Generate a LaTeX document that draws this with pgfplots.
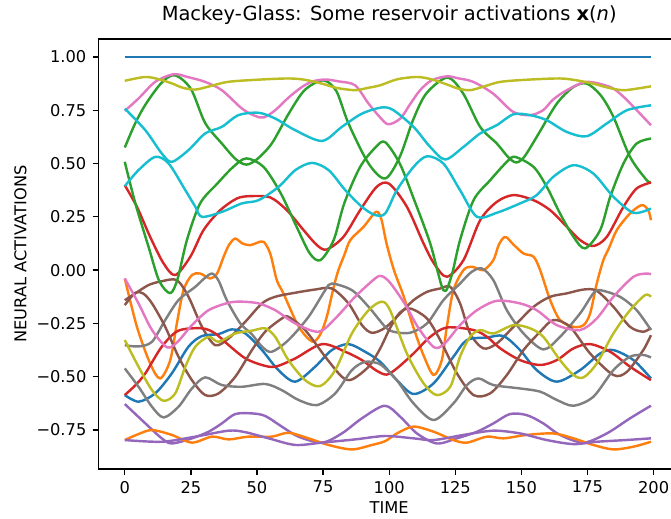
\documentclass[border=0pt]{standalone}
\usepackage{fontspec}
\setmainfont{DejaVu Sans}
\usepackage{pgfplots}
\pgfplotsset{compat=1.18}

% tab10 palette
\definecolor{c0}{HTML}{1F77B4}
\definecolor{c1}{HTML}{FF7F0E}
\definecolor{c2}{HTML}{2CA02C}
\definecolor{c3}{HTML}{D62728}
\definecolor{c4}{HTML}{9467BD}
\definecolor{c5}{HTML}{8C564B}
\definecolor{c6}{HTML}{E377C2}
\definecolor{c7}{HTML}{7F7F7F}
\definecolor{c8}{HTML}{BCBD22}
\definecolor{c9}{HTML}{17BECF}

\begin{document}
\begin{tikzpicture}
\begin{axis}[
  name=ax,
  scale only axis,
  width=418.8pt, height=309.6pt,
  xmin=-10, xmax=210, ymin=-0.933, ymax=1.084,
  axis line style={line width=0.94pt},
  every tick/.style={black, line width=0.94pt},
  major tick length=4.1pt,
  tick align=outside,
  xtick pos=left, ytick pos=left,
  xtick={0,25,50,75,100,125,150,175,200},
  xticklabels={0,25,50,75,100,125,150,175,200},
  ytick={-0.75,-0.5,-0.25,0,0.25,0.5,0.75,1},
  yticklabels={−0.75,−0.50,−0.25,0.00,0.25,0.50,0.75,1.00},
  tick label style={font=\fontsize{11.7}{14}\selectfont},
  xticklabel style={yshift=-1pt},
  yticklabel style={xshift=-1pt},
  label style={font=\fontsize{11.7}{14}\selectfont},
  xlabel={TIME},
  ylabel={NEURAL ACTIVATIONS},
  xlabel style={at={(axis description cs:0.5,-0.0885)}, anchor=center},
  ylabel style={at={(axis description cs:-0.134,0.5)}, anchor=center, rotate=0},
  title={Mackey-Glass: Some reservoir activations {\bfseries x}(\textit{n})},
  title style={font=\fontsize{14}{17}\selectfont, at={(axis description cs:0.5,1.0226)}, anchor=base},
  every axis plot/.append style={line width=1.75pt, smooth, no markers, line join=round},
]
% bias unit
\addplot[c0] coordinates {(0,1) (199,1)};
% first group of units
\addplot[c1] coordinates {(0,-0.039) (4.6,-0.266) (9.6,-0.438) (13.4,-0.508) (17.2,-0.422) (19.7,-0.25) (22.2,-0.094) (25.4,-0.023) (28.5,-0.016) (32.3,-0.039) (34.9,-0.016) (37.4,0.063) (39.5,0.12) (41.8,0.148) (44.5,0.125) (47.4,0.117) (50,0.128) (52.5,0.133) (55,0.078) (57.5,-0.047) (60,-0.109) (65.1,-0.25) (68.5,-0.31) (71.4,-0.336) (74,-0.3) (76.4,-0.219) (79,-0.08) (80.8,0) (83,0.07) (85.3,0.141) (90.3,0.203) (95,0.273) (97,0.24) (99,0.125) (101.8,0.0) (105.4,-0.12) (109.2,-0.27) (113,-0.4) (116.8,-0.492) (119.9,-0.422) (121.8,-0.266) (124.3,-0.094) (128.1,0) (131.3,0.016) (135.6,0) (139.4,0.047) (141.5,0.12) (143.9,0.156) (147,0.12) (150.8,0.078) (154.6,0.063) (157.1,0) (160.9,-0.141) (164.6,-0.234) (169.7,-0.266) (173.5,-0.258) (176,-0.203) (178.5,-0.063) (181,0.047) (183,0.1) (186.1,0.188) (191.1,0.266) (195.5,0.305) (198,0.281) (199,0.234)};
\addplot[c2] coordinates {(0,0.575) (4,0.69) (8,0.78) (14,0.88) (19,0.914) (25,0.85) (30.4,0.69) (36.7,0.594) (42,0.52) (46,0.495) (50,0.52) (55.6,0.594) (62,0.734) (68,0.844) (75,0.89) (80,0.84) (84.6,0.688) (92.2,0.5) (98.5,0.43) (104,0.531) (109,0.703) (114,0.828) (122,0.903) (128,0.828) (134.4,0.672) (140.7,0.594) (145,0.53) (148,0.505) (151,0.53) (155.8,0.625) (163.4,0.781) (169.7,0.859) (174.7,0.875) (180,0.82) (184.8,0.719) (191.1,0.531) (197.4,0.422) (199,0.414)};
\addplot[c3] coordinates {(0,0.398) (4.6,0.297) (9.6,0.156) (14.7,0.031) (19.1,-0.023) (24.8,0.063) (29.8,0.188) (36.1,0.281) (42.4,0.336) (47.4,0.347) (55,0.341) (61.3,0.281) (67.6,0.188) (72.7,0.117) (76.4,0.097) (82.7,0.156) (89,0.281) (95.3,0.391) (100,0.405) (106.7,0.297) (113,0.125) (117,0.03) (121.8,-0.031) (128.1,0.047) (134.4,0.234) (140.7,0.32) (147,0.352) (154.6,0.328) (160.9,0.281) (167.2,0.203) (172.2,0.141) (177.2,0.113) (182.3,0.156) (188.6,0.297) (193.6,0.383) (199,0.411)};
\addplot[c4] coordinates {(0,-0.628) (7.8,-0.719) (14,-0.789) (17.8,-0.813) (25.4,-0.789) (31.7,-0.758) (36.7,-0.719) (41.8,-0.675) (48.1,-0.672) (53.1,-0.684) (59.4,-0.734) (65.7,-0.781) (74.6,-0.809) (82.1,-0.766) (89.7,-0.695) (98.3,-0.636) (104.2,-0.688) (110.5,-0.766) (118,-0.813) (125.6,-0.789) (133.2,-0.758) (139.4,-0.719) (145.7,-0.675) (152,-0.68) (158.3,-0.719) (164.6,-0.773) (173.5,-0.809) (182.3,-0.766) (191.1,-0.695) (199,-0.636)};
\addplot[c5] coordinates {(0,-0.141) (4,-0.109) (9,-0.07) (14,-0.052) (19.7,-0.047) (24.1,-0.125) (29.2,-0.266) (34.2,-0.352) (39.3,-0.32) (45.6,-0.242) (51.9,-0.156) (56.9,-0.125) (64.5,-0.106) (72,-0.091) (78.3,-0.086) (84.6,-0.156) (89.7,-0.258) (93.5,-0.294) (98.5,-0.27) (104.2,-0.203) (109.2,-0.141) (114.3,-0.102) (119.3,-0.086) (123.1,-0.078) (126.8,-0.156) (130.6,-0.297) (135.6,-0.367) (140.7,-0.344) (147,-0.266) (154.6,-0.172) (160.9,-0.125) (167.2,-0.109) (173.5,-0.091) (178.5,-0.097) (184.8,-0.172) (191.1,-0.266) (196.1,-0.289) (199,-0.27)};
\addplot[c6] coordinates {(0,0.747) (5.2,0.805) (11.5,0.883) (18.5,0.919) (24,0.905) (30.4,0.883) (36.7,0.844) (44.3,0.758) (49,0.725) (52.5,0.716) (56.9,0.75) (62,0.81) (67,0.859) (71,0.885) (75.8,0.894) (81,0.885) (87.1,0.867) (92.2,0.781) (96.6,0.716) (99.7,0.684) (104.2,0.711) (108,0.78) (111.7,0.844) (116,0.89) (121.8,0.909) (126,0.9) (131.8,0.883) (139.3,0.828) (146.9,0.742) (153.3,0.727) (158.2,0.75) (162,0.8) (167.2,0.844) (174.7,0.883) (183.6,0.859) (188,0.82) (192.4,0.766) (199,0.68)};
\addplot[c7] coordinates {(0,-0.352) (5.2,-0.358) (10.3,-0.336) (15.3,-0.234) (20.3,-0.141) (26.7,-0.078) (30,-0.04) (33,-0.016) (35.5,-0.05) (38.6,-0.141) (43.7,-0.25) (48,-0.3) (52,-0.36) (55.6,-0.383) (61.9,-0.328) (69.5,-0.219) (75.8,-0.094) (78.3,-0.063) (85.9,-0.094) (92.2,-0.172) (98.5,-0.266) (101.6,-0.289) (107.9,-0.294) (114.3,-0.25) (120.5,-0.141) (126.8,-0.063) (131,-0.01) (135,0.008) (139.4,-0.047) (144.5,-0.188) (150.8,-0.297) (158.3,-0.372) (164.6,-0.313) (172.2,-0.203) (177.2,-0.109) (179.8,-0.094) (187.3,-0.125) (193.6,-0.188) (199,-0.281)};
\addplot[c8] coordinates {(0,0.888) (7.7,0.906) (13,0.895) (18,0.875) (22,0.855) (26.7,0.847) (32,0.862) (39,0.883) (50,0.893) (61.8,0.899) (68,0.893) (74.5,0.875) (80,0.855) (87,0.844) (92,0.855) (96.6,0.867) (103,0.895) (110.5,0.906) (116,0.895) (122,0.87) (126,0.852) (130.6,0.844) (136,0.862) (142,0.883) (152,0.893) (164.6,0.899) (171,0.89) (177,0.875) (183,0.855) (188.5,0.844) (194,0.852) (199,0.862)};
\addplot[c9] coordinates {(0,0.758) (7.8,0.656) (14,0.547) (17.8,0.508) (24.1,0.563) (30.4,0.641) (36.7,0.672) (43,0.727) (50.6,0.738) (56.9,0.711) (64.5,0.656) (74.6,0.606) (82.1,0.672) (89.7,0.734) (97.2,0.763) (101.6,0.75) (109.2,0.672) (115.5,0.578) (121.2,0.519) (128.1,0.578) (134.4,0.641) (140.7,0.68) (147,0.731) (153.3,0.727) (159.6,0.703) (167.2,0.648) (174.7,0.628) (182.3,0.688) (189.9,0.75) (199,0.773)};
% second group of units
\addplot[c0] coordinates {(0,-0.586) (5.2,-0.617) (11.5,-0.578) (17.8,-0.484) (24.1,-0.359) (29.2,-0.309) (35.5,-0.3) (40.5,-0.278) (45.6,-0.297) (51.9,-0.375) (58.1,-0.469) (64.5,-0.523) (72,-0.453) (78.3,-0.375) (84.6,-0.347) (90.9,-0.383) (96.6,-0.43) (102.9,-0.516) (109.2,-0.581) (116.8,-0.531) (124.3,-0.406) (129.4,-0.328) (137,-0.316) (143.2,-0.309) (149.5,-0.375) (155.8,-0.469) (163.4,-0.523) (172.2,-0.469) (179.8,-0.391) (184.8,-0.375) (192.4,-0.422) (199,-0.508)};
\addplot[c1] coordinates {(0,-0.797) (5,-0.77) (10.3,-0.75) (17.8,-0.773) (25.4,-0.809) (33,-0.781) (39.3,-0.794) (46.8,-0.781) (55.6,-0.781) (61.9,-0.763) (69.5,-0.789) (77,-0.82) (85.9,-0.841) (93.5,-0.82) (98.5,-0.802) (102.9,-0.766) (109.2,-0.734) (116.8,-0.758) (124.3,-0.797) (129.4,-0.809) (137,-0.781) (143.2,-0.789) (152,-0.773) (162.1,-0.766) (169.7,-0.789) (177.2,-0.82) (184.8,-0.841) (192.4,-0.828) (199,-0.805)};
\addplot[c2] coordinates {(0,0.508) (4,0.313) (9,0.109) (13,-0.05) (17.2,-0.108) (20,-0.04) (23.5,0.141) (28.5,0.313) (35,0.406) (41,0.484) (46,0.524) (52.5,0.484) (59,0.36) (65,0.203) (70,0.078) (74,0.047) (79,0.141) (83,0.313) (89,0.484) (95,0.578) (98.5,0.6) (104,0.5) (109,0.344) (115.5,0.126) (120.5,-0.094) (123.5,-0.03) (126.8,0.141) (131.9,0.328) (138.2,0.422) (144.5,0.508) (147.6,0.531) (154.6,0.484) (159.6,0.391) (164.6,0.266) (169.7,0.156) (174.1,0.102) (179.8,0.188) (183.6,0.344) (188.6,0.5) (193.6,0.594) (199,0.617)};
\addplot[c3] coordinates {(0,-0.586) (4,-0.54) (7.8,-0.484) (14,-0.359) (20.3,-0.284) (29.2,-0.273) (34.2,-0.297) (39.3,-0.352) (45.6,-0.414) (51.9,-0.445) (56.9,-0.453) (64.5,-0.414) (74.6,-0.347) (83.4,-0.383) (89.7,-0.422) (95,-0.47) (99,-0.49) (102.9,-0.461) (109.2,-0.391) (115.5,-0.313) (121.8,-0.269) (131.9,-0.281) (137,-0.313) (142,-0.367) (149.5,-0.422) (157.1,-0.445) (163.4,-0.422) (169.7,-0.367) (176,-0.347) (183.6,-0.383) (191.1,-0.453) (199,-0.516)};
\addplot[c4] coordinates {(0,-0.797) (14,-0.805) (26.7,-0.781) (39.3,-0.753) (45.5,-0.76) (54.4,-0.789) (64.5,-0.82) (74.6,-0.809) (87.1,-0.794) (98.5,-0.778) (109.2,-0.789) (116.8,-0.797) (128.1,-0.773) (139.4,-0.753) (149.5,-0.766) (159.6,-0.797) (169.7,-0.816) (178.5,-0.805) (189.5,-0.797) (199,-0.789)};
\addplot[c5] coordinates {(0,-0.164) (4,-0.106) (7,-0.11) (10.3,-0.156) (15.3,-0.266) (20.3,-0.406) (25.4,-0.516) (30.4,-0.586) (35.5,-0.578) (41.8,-0.5) (48.1,-0.375) (53.1,-0.289) (59.4,-0.227) (61.9,-0.219) (68.2,-0.281) (75.8,-0.406) (82.1,-0.5) (85.9,-0.513) (92.2,-0.453) (96.5,-0.37) (100.4,-0.27) (104,-0.2) (108,-0.18) (114.3,-0.227) (119.3,-0.328) (125.6,-0.484) (131.9,-0.586) (138.2,-0.578) (144.5,-0.492) (150.8,-0.375) (157.1,-0.289) (162.1,-0.234) (168.4,-0.266) (176,-0.391) (184.8,-0.492) (189.9,-0.477) (196.1,-0.375) (199,-0.305)};
\addplot[c6] coordinates {(0,-0.039) (5.2,-0.156) (10.3,-0.281) (16,-0.362) (20,-0.336) (25.4,-0.258) (31.7,-0.188) (39.3,-0.153) (44.3,-0.148) (50.6,-0.156) (56.9,-0.188) (64.5,-0.25) (73.3,-0.289) (79.6,-0.227) (87.1,-0.125) (94.7,-0.039) (97.2,-0.028) (100.4,-0.06) (106,-0.16) (111,-0.27) (117,-0.362) (121,-0.344) (126.8,-0.258) (133.2,-0.188) (140.7,-0.144) (149.5,-0.156) (155.8,-0.188) (163.4,-0.258) (172.2,-0.281) (178.5,-0.227) (184.8,-0.125) (192.4,-0.031) (197.4,-0.016) (199,-0.02)};
\addplot[c7] coordinates {(0,-0.461) (5.2,-0.547) (10.3,-0.641) (14.7,-0.691) (20.3,-0.641) (25.4,-0.555) (30.4,-0.503) (36.7,-0.539) (44.3,-0.547) (53.1,-0.534) (59.4,-0.563) (65.7,-0.609) (72.7,-0.633) (79.6,-0.578) (85.9,-0.469) (90.9,-0.43) (96,-0.438) (98.5,-0.461) (102.9,-0.516) (109.2,-0.625) (116.8,-0.703) (124.3,-0.625) (129.4,-0.539) (133.8,-0.508) (139.4,-0.539) (149.5,-0.555) (157.1,-0.57) (163.4,-0.609) (169.7,-0.636) (177.2,-0.594) (184.8,-0.469) (191.1,-0.406) (196.1,-0.398) (199,-0.41)};
\addplot[c8] coordinates {(0,-0.328) (5.2,-0.453) (10.3,-0.563) (14.7,-0.613) (19.1,-0.578) (22.9,-0.453) (26.7,-0.359) (31.7,-0.313) (35.5,-0.336) (41.8,-0.297) (48.1,-0.284) (53.1,-0.273) (56.9,-0.313) (61.9,-0.422) (68.2,-0.516) (73.9,-0.544) (79.6,-0.469) (85.9,-0.297) (92.2,-0.188) (97.2,-0.148) (100.4,-0.19) (106.7,-0.391) (113,-0.531) (118,-0.586) (123.1,-0.547) (126.8,-0.406) (130.6,-0.313) (134.4,-0.281) (139.4,-0.297) (147,-0.258) (153.3,-0.273) (158.3,-0.313) (164.6,-0.422) (169.7,-0.492) (173.5,-0.503) (178.5,-0.438) (184.8,-0.297) (191.1,-0.188) (196.8,-0.117) (199,-0.125)};
\addplot[c9] coordinates {(0,0.394) (5.2,0.469) (11.5,0.531) (16.6,0.5) (22.9,0.375) (26.7,0.297) (29.2,0.25) (36.7,0.273) (44.3,0.313) (50.6,0.328) (58.2,0.391) (64.5,0.469) (70.8,0.503) (77.1,0.469) (83.4,0.375) (89.7,0.297) (94.7,0.258) (98.5,0.266) (102.9,0.375) (109.2,0.484) (114.3,0.534) (120.5,0.5) (126.8,0.375) (133.2,0.25) (140.7,0.269) (149.5,0.313) (155.8,0.352) (162.1,0.438) (169.7,0.492) (177.2,0.453) (184.8,0.344) (192.4,0.269) (199,0.289)};
\end{axis}
% canvas: the page stops just short of the right spine
\pgfresetboundingbox
\path[use as bounding box] ([shift={(-70.8pt,-35.3pt)}]ax.south west) rectangle ([shift={(-6.5pt,28.1pt)}]ax.north east);
\end{tikzpicture}
\end{document}
